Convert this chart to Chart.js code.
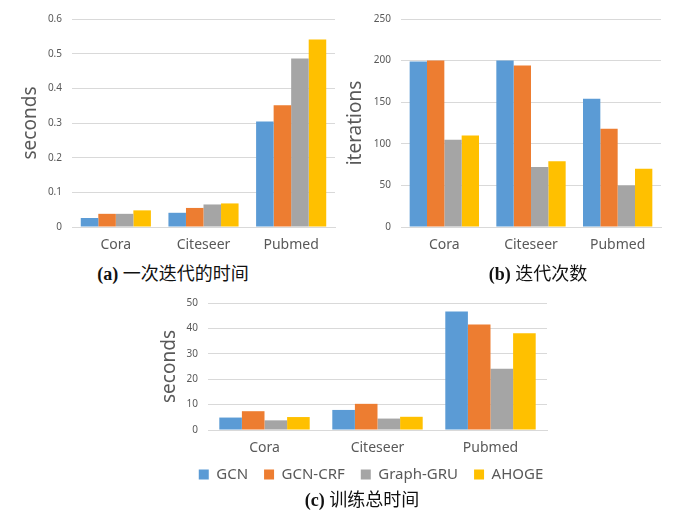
<!DOCTYPE html>
<html>
<head>
<meta charset="utf-8">
<script src="https://cdn.jsdelivr.net/npm/chart.js@4"></script>
<style>
  body { margin: 0; background: #fff; width: 682px; height: 519px; position: relative; overflow: hidden; }
  canvas { position: absolute; }
  .cap { position: absolute; font-size: 18px; color: #111; white-space: nowrap; transform: translate(-50%, -50%); }
  .cap b { font-family: "Liberation Serif", serif; }
  .cap span { font-family: "Noto Sans CJK SC", sans-serif; }
</style>
</head>
<body>
<canvas id="chartA" width="345" height="258" style="left:0;top:0"></canvas>
<canvas id="chartB" width="342" height="258" style="left:340px;top:0"></canvas>
<canvas id="chartC" width="422" height="215" style="left:160px;top:285px"></canvas>
<div class="cap" style="left:173px;top:272px"><b>(a)</b> <span>一次迭代的时间</span></div>
<div class="cap" style="left:538px;top:272px"><b>(b)</b> <span>迭代次数</span></div>
<div class="cap" style="left:362px;top:498px"><b>(c)</b> <span>训练总时间</span></div>
<script>
// 数据
const categories = ['Cora', 'Citeseer', 'Pubmed'];
const seriesNames = ['GCN', 'GCN-CRF', 'Graph-GRU', 'AHOGE'];
const seriesColors = ['#5B9BD5', '#ED7D31', '#A5A5A5', '#FFC000'];

// (a) 一次迭代的时间 (seconds)
const epochGCN = [0.026, 0.041, 0.304];
const epochCRF = [0.038, 0.055, 0.351];
const epochGRU = [0.038, 0.065, 0.486];
const epochAHOGE = [0.048, 0.068, 0.541];

// (b) 迭代次数
const iterGCN = [199, 200, 154];
const iterCRF = [200, 194, 118];
const iterGRU = [105, 72, 50];
const iterAHOGE = [110, 79, 70];

// (c) 训练总时间 (seconds)
const totalGCN = [4.9, 7.9, 46.7];
const totalCRF = [7.4, 10.3, 41.5];
const totalGRU = [3.8, 4.5, 24.1];
const totalAHOGE = [5.1, 5.2, 38.1];

const gray = '#595959';
const gridColor = '#D9D9D9';
const fontFamily = '"Noto Sans", "Open Sans", sans-serif';

// 图例上移几个像素，贴近横轴标签
const legendShift = {
    id: 'legendShift',
    afterLayout(chart, args, opts) {
        if (chart.legend && opts.dy) {
            chart.legend.top -= opts.dy;
            chart.legend.bottom -= opts.dy;
        }
    }
};

function makeChart(id, series, cfg) {
    const ctx = document.getElementById(id).getContext('2d');
    const scales = {
        x: {
            grid: { display: false, drawTicks: false },
            border: { color: gridColor },
            ticks: { color: gray, padding: 10, font: { family: fontFamily, size: 14 } },
            afterFit: s => { s.height = cfg.xHeight; }
        },
        y: {
            min: 0,
            max: cfg.max,
            grid: { color: gridColor, drawTicks: false },
            border: { display: false },
            ticks: { stepSize: cfg.step, color: gray, padding: 10, font: { family: fontFamily, size: 10 } },
            title: {
                display: true,
                text: cfg.title,
                color: gray,
                padding: { top: cfg.titlePad, bottom: 0 },
                font: { family: fontFamily, size: 19, lineHeight: 1 }
            },
            afterFit: s => { s.width = cfg.yWidth; }
        }
    };
    // 右侧留白（空轴），让图例居中于整张画布
    if (cfg.rightGap) {
        scales.yRight = {
            position: 'right',
            grid: { display: false, drawTicks: false },
            border: { display: false },
            ticks: { display: false },
            afterFit: s => { s.width = cfg.rightGap; }
        };
    }
    return new Chart(ctx, {
        type: 'bar',
        data: {
            labels: categories,
            datasets: series.map((values, i) => ({
                label: seriesNames[i],
                data: values,
                backgroundColor: seriesColors[i],
                borderWidth: 0,
                barPercentage: 1,
                categoryPercentage: 0.8
            }))
        },
        options: {
            responsive: false,
            animation: false,
            layout: { padding: cfg.padding },
            plugins: {
                legend: cfg.legend || { display: false },
                legendShift: { dy: cfg.legendDy || 0 },
                tooltip: { enabled: false }
            },
            scales: scales
        },
        plugins: [legendShift]
    });
}

makeChart('chartA', [epochGCN, epochCRF, epochGRU, epochAHOGE], {
    max: 0.6, step: 0.1, title: 'seconds',
    padding: { top: 19, right: 10, left: 0, bottom: 0 },
    yWidth: 72, xHeight: 31, titlePad: 21
});

makeChart('chartB', [iterGCN, iterCRF, iterGRU, iterAHOGE], {
    max: 250, step: 50, title: 'iterations',
    padding: { top: 19, right: 21, left: 0, bottom: 0 },
    yWidth: 61, xHeight: 31, titlePad: 6
});

makeChart('chartC', [totalGCN, totalCRF, totalGRU, totalAHOGE], {
    max: 50, step: 10, title: 'seconds',
    padding: { top: 18, right: 0, left: 0, bottom: 0 },
    yWidth: 48, xHeight: 29, titlePad: 0, rightGap: 35, legendDy: 8,
    legend: {
        display: true,
        position: 'bottom',
        labels: {
            boxWidth: 10,
            boxHeight: 10,
            padding: 16,
            color: gray,
            font: { family: fontFamily, size: 15 }
        }
    }
});
</script>
</body>
</html>
